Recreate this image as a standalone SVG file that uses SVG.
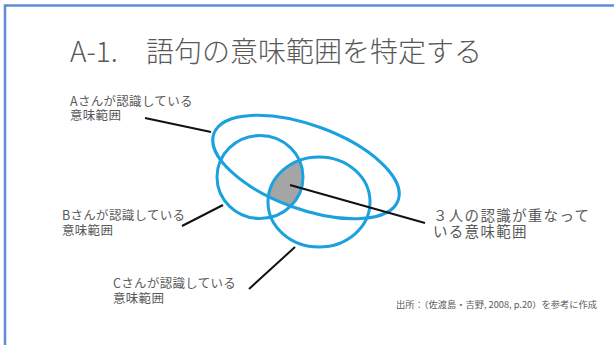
<svg xmlns="http://www.w3.org/2000/svg" width="614" height="345" viewBox="0 0 614 345">
<style>
.t{font-family:"Noto Sans CJK JP","Liberation Sans",sans-serif;fill:#595959}
.lbl{font-size:12.5px;letter-spacing:0.3px}
.ell{fill:none;stroke:#1ba1de;stroke-width:3}
.ln{stroke:#111;stroke-width:2;fill:none}
</style>
<defs>
<clipPath id="clipA"><ellipse cx="306" cy="167" rx="98" ry="42" transform="rotate(20 306 167)"/></clipPath>
<clipPath id="clipB"><ellipse cx="260" cy="177" rx="43" ry="41.5"/></clipPath>
</defs>
<rect x="0" y="0" width="614" height="345" fill="#fff"/>
<path d="M5 345 V5.5 H614" fill="none" stroke="#5b8ed6" stroke-width="2.5"/>
<g id="title"><text class="t" x="70" y="62" font-size="28" font-weight="300">A-1.<tspan x="146">語句の意味範囲を特定する</tspan></text></g>
<g id="overlap"><g clip-path="url(#clipA)"><ellipse cx="319" cy="202" rx="51" ry="45" fill="#a5a5a5" clip-path="url(#clipB)"/></g></g>
<g id="ellipseA"><ellipse class="ell" cx="306" cy="167" rx="98" ry="42" transform="rotate(20 306 167)"/></g>
<g id="ellipseB"><ellipse class="ell" cx="260" cy="177" rx="43" ry="41.5"/></g>
<g id="ellipseC"><ellipse class="ell" cx="319" cy="202" rx="51" ry="45"/></g>
<g id="connectors">
<line class="ln" x1="145" y1="118" x2="211" y2="132"/>
<line class="ln" x1="182" y1="226" x2="223" y2="205"/>
<line class="ln" x1="249" y1="289" x2="295" y2="247"/>
<line class="ln" x1="290" y1="185" x2="425" y2="223"/>
</g>
<g id="labelA"><text class="t lbl" x="70" y="106">Aさんが認識している<tspan x="70" dy="14">意味範囲</tspan></text></g>
<g id="labelB"><text class="t lbl" x="62" y="220">Bさんが認識している<tspan x="62" dy="15">意味範囲</tspan></text></g>
<g id="labelC"><text class="t lbl" x="113" y="288">Cさんが認識している<tspan x="113" dy="15">意味範囲</tspan></text></g>
<g id="labelABC"><text class="t" font-size="14.5" x="433" y="221" letter-spacing="1.3">３人の認識が重なって<tspan x="433" dy="16">いる意味範囲</tspan></text></g>
<g id="source"><text class="t" font-size="8.7" x="396" y="308" textLength="201" lengthAdjust="spacingAndGlyphs">出所：（佐渡島・吉野, 2008, p.20）を参考に作成</text></g>
</svg>
